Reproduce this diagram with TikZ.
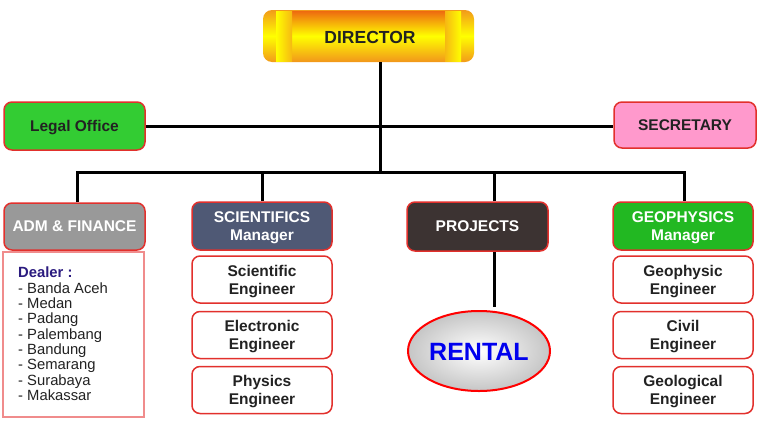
\documentclass[tikz,border=0pt]{standalone}
\usepackage{fontspec}
\setmainfont{Liberation Sans}
\usetikzlibrary{shapes.geometric}
\definecolor{bred}{HTML}{E2302C}
\definecolor{legalg}{HTML}{33CC33}
\definecolor{secp}{HTML}{FF99CC}
\definecolor{admg}{HTML}{999999}
\definecolor{scis}{HTML}{4F5975}
\definecolor{projb}{HTML}{3C3332}
\definecolor{geog}{HTML}{22B822}
\definecolor{dealb}{HTML}{F08C8C}
\definecolor{dealt}{HTML}{2B1B7F}
\definecolor{txt}{HTML}{222222}
\definecolor{rentb}{HTML}{0000EE}
\definecolor{dorange}{HTML}{F29A1A}
\definecolor{dred}{HTML}{EE6A10}
\begin{document}
\begin{tikzpicture}[x=1pt,y=-1pt,
  box/.style={draw=bred, line width=1.5pt, rounded corners=8pt, align=center,
    font=\bfseries\fontsize{15.5}{18}\selectfont, text=txt, minimum width=140pt, inner sep=0pt, text depth=-2pt},
  mgr/.style={box, text=white, minimum height=48pt},
  sub/.style={box, fill=white, minimum height=47pt},
  conn/.style={line width=3pt, black}]
\useasboundingbox (0,0) rectangle (759,426);
% Director
\shade[rounded corners=9pt, top color=dorange, bottom color=dorange, middle color=yellow] (263,10) rectangle (474,62);
\shade[top color=dred, bottom color=dorange, middle color=yellow] (292,11) rectangle (445,61);
\shade[left color=yellow, right color=dorange!70!yellow] (276,11) rectangle (292,61);
\shade[left color=dorange!70!yellow, right color=yellow] (445,11) rectangle (461,61);
\node[font=\bfseries\fontsize{17.5}{18}\selectfont, text=txt] (director) at (370,37) {DIRECTOR};
\coordinate (dirb) at (380,62);
% Legal and secretary
\node[box, fill=legalg, minimum width=141pt, minimum height=48pt] (legal) at (74.5,126) {Legal Office};
\node[box, fill=secp, minimum width=142pt, minimum height=46pt] (secretary) at (685,125) {SECRETARY};
% Departments
\node[mgr, fill=admg, minimum width=141pt, minimum height=47pt] (adm) at (74.5,226.5) {ADM \& FINANCE};
\node[mgr, fill=scis] (sci) at (262,226) {SCIENTIFICS\\Manager};
\node[mgr, fill=projb, minimum width=141pt, minimum height=49pt] (proj) at (477.5,226.5) {PROJECTS};
\node[mgr, fill=geog] (geo) at (683,226) {GEOPHYSICS\\Manager};
% Sub boxes
\node[sub] (sci1) at (262,279.5) {Scientific\\Engineer};
\node[sub] (sci2) at (262,335) {Electronic\\Engineer};
\node[sub] (sci3) at (262,390) {Physics\\Engineer};
\node[sub] (geo1) at (683,279.5) {Geophysic\\Engineer};
\node[sub] (geo2) at (683,335) {Civil\\Engineer};
\node[sub] (geo3) at (683,390) {Geological\\Engineer};
% Dealer box
\node[draw=dealb, line width=1.2pt, fill=white, minimum width=141pt, minimum height=165pt, inner sep=0pt] (dealer) at (73.5,334.5) {};
\node[anchor=north west, align=left, inner sep=0pt, font=\fontsize{14.8}{15.3}\selectfont, text=txt] (dlist) at (18,267)
 {\textcolor{dealt}{\bfseries Dealer :}\\- Banda Aceh\\- Medan\\- Padang\\- Palembang\\- Bandung\\- Semarang\\- Surabaya\\- Makassar};
% Rental
\shade[inner color=white, outer color=gray!45] (479,351) ellipse [x radius=71, y radius=40];
\draw[red, line width=2pt] (479,351) ellipse [x radius=71, y radius=40];
\node[font=\bfseries\fontsize{25}{27}\selectfont, text=rentb] (rental) at (479,352) {RENTAL};
% Connectors
\coordinate (dj) at (380,172);
\coordinate (busL) at (77,172);
\coordinate (busR) at (684,172);
\coordinate (pj) at (494,172);
\coordinate (rj) at (494,307);
\draw[conn] (dirb) -- (dj);
\draw[conn] (legal.east) -- (legal.east -| secretary.west);
\draw[conn] (adm.north -| busL) -- (busL) -- (busR) -- (geo.north -| busR);
\draw[conn] (sci.north) -- (sci.north |- dj);
\draw[conn] (proj.north -| pj) -- (pj);
\draw[conn] (proj.south -| pj) -- (rj);
\end{tikzpicture}
\end{document}
